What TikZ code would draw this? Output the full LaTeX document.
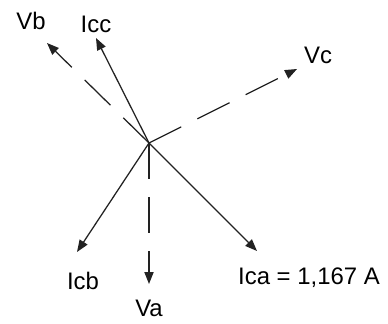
\documentclass[tikz,border=0pt]{standalone}
\usepackage{fontspec}
\setmainfont{Liberation Sans}
\usetikzlibrary{arrows.meta}
\definecolor{phasor}{HTML}{222222}

\begin{document}
\begin{tikzpicture}[x=0.025cm, y=-0.025cm,
  vec/.style={-{Triangle[length=3mm, width=2.3mm]}, line width=0.9pt, phasor},
  volt/.style={vec, dash pattern=on 0.9cm off 0.45cm},
  lbl/.style={font=\fontsize{17}{19}\selectfont, inner sep=0pt, text=black}
]
  \useasboundingbox (0,0) rectangle (388,323);
  \coordinate (o) at (149,143);
  % tips of the phasors
  \coordinate (vb) at (47,43);
  \coordinate (icc) at (96,38);
  \coordinate (vc) at (297,69);
  \coordinate (icb) at (77,252);
  \coordinate (va) at (149,284);
  \coordinate (ica) at (257,251);
  % labels
  \node[lbl] (vbl) at (31,21) {Vb};
  \node[lbl] (iccl) at (96,24) {Icc};
  \node[lbl] (vcl) at (318,55) {Vc};
  \node[lbl] (icbl) at (83,281) {Icb};
  \node[lbl] (val) at (149,308) {Va};
  \node[lbl] (ical) at (309,278) {Ica = 1,167 A};
  % voltages (dashed)
  \draw[volt] (o) -- (vb);
  \draw[volt] (o) -- (vc);
  \draw[volt] (o) -- (va);
  % currents
  \draw[vec] (o) -- (icc);
  \draw[vec] (o) -- (icb);
  \draw[vec] (o) -- (ica);
\end{tikzpicture}
\end{document}
